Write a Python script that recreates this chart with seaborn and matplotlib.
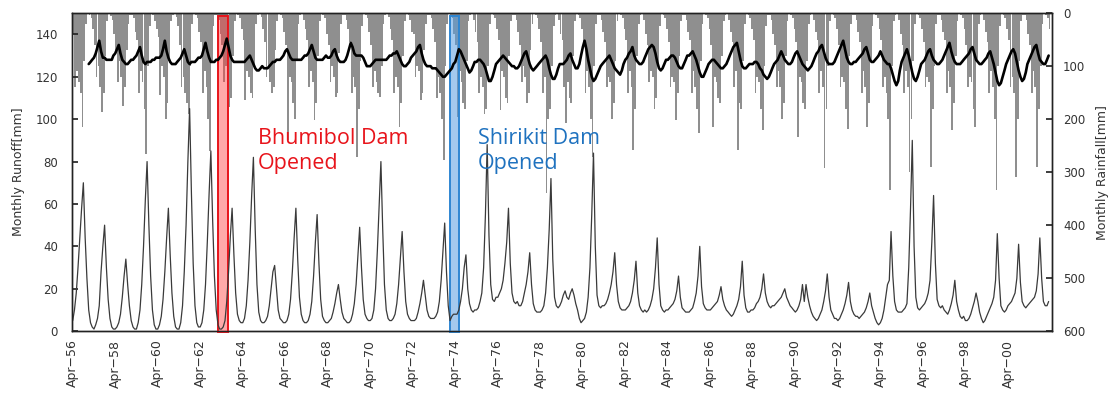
import numpy as np
import pandas as pd
import matplotlib
matplotlib.use('Agg')
import matplotlib.pyplot as plt
import matplotlib.dates as mdates
import seaborn as sns

# monthly series, one row per water year (Apr .. Mar), 1956/57 to 2001/02
first_month = '1956-04-01'

runoff = [
    [5, 10, 18, 30, 44, 58, 70, 44, 25, 10, 4, 2],       # 1956
    [1, 3, 6, 12, 28, 40, 50, 30, 15, 6, 2, 1],
    [1, 2, 4, 8, 16, 26, 34, 22, 12, 5, 2, 1],
    [1, 4, 10, 22, 40, 62, 80, 50, 26, 10, 3, 1],
    [1, 3, 7, 15, 28, 44, 58, 36, 18, 7, 2, 1],          # 1960
    [1, 4, 12, 28, 50, 80, 105, 65, 32, 12, 4, 2],
    [2, 4, 10, 22, 42, 65, 85, 52, 26, 10, 3, 1],
    [1, 2, 5, 14, 28, 45, 58, 36, 18, 8, 5, 4],
    [4, 6, 12, 24, 42, 64, 82, 48, 22, 9, 5, 4],
    [4, 5, 7, 12, 20, 28, 31, 20, 10, 6, 5, 4],          # 1965
    [4, 5, 8, 15, 28, 44, 58, 34, 16, 8, 5, 4],
    [4, 5, 8, 14, 26, 42, 55, 32, 15, 7, 5, 4],
    [4, 5, 6, 9, 13, 18, 22, 15, 9, 6, 5, 4],
    [4, 5, 8, 13, 22, 36, 49, 30, 15, 8, 6, 5],
    [5, 6, 10, 20, 38, 60, 80, 48, 22, 10, 6, 5],        # 1970
    [5, 6, 8, 13, 22, 35, 47, 28, 14, 8, 6, 5],
    [5, 5, 6, 9, 13, 18, 24, 17, 10, 7, 6, 6],
    [6, 7, 9, 14, 24, 38, 51, 28, 12, 5, 7, 8],
    [8, 8, 10, 14, 20, 30, 36, 20, 13, 10, 9, 10],
    [10, 11, 14, 18, 30, 55, 88, 45, 22, 15, 14, 16],    # 1975
    [16, 18, 20, 24, 32, 42, 58, 32, 18, 14, 13, 14],
    [12, 12, 14, 18, 22, 28, 37, 22, 13, 10, 9, 9],
    [9, 10, 12, 18, 30, 48, 72, 34, 16, 12, 11, 12],
    [14, 17, 19, 16, 15, 18, 20, 17, 13, 10, 6, 4],
    [5, 6, 9, 16, 30, 55, 84, 40, 17, 12, 11, 12],       # 1980
    [12, 13, 15, 18, 22, 28, 37, 22, 14, 11, 10, 10],
    [10, 11, 12, 14, 18, 24, 33, 18, 12, 10, 9, 10],
    [9, 10, 12, 15, 20, 30, 44, 22, 12, 10, 9, 10],
    [10, 11, 12, 13, 15, 19, 26, 16, 11, 10, 9, 9],
    [9, 10, 11, 14, 18, 26, 40, 21, 13, 11, 10, 10],     # 1985
    [10, 11, 12, 13, 14, 17, 21, 15, 12, 10, 9, 8],
    [7, 8, 10, 12, 15, 21, 33, 17, 11, 9, 9, 10],
    [10, 11, 13, 14, 16, 20, 27, 18, 14, 12, 11, 12],
    [12, 13, 14, 15, 16, 18, 20, 16, 14, 12, 11, 10],
    [9, 10, 12, 15, 22, 14, 22, 16, 12, 9, 7, 6],        # 1990
    [5, 6, 8, 10, 14, 19, 27, 16, 10, 8, 6, 6],
    [5, 6, 8, 10, 13, 17, 23, 14, 10, 8, 7, 7],
    [6, 7, 8, 9, 11, 14, 18, 12, 9, 6, 4, 3],
    [4, 6, 10, 16, 22, 24, 47, 26, 14, 10, 9, 9],
    [9, 10, 11, 13, 30, 58, 90, 40, 16, 11, 10, 11],     # 1995
    [12, 13, 15, 18, 24, 42, 64, 32, 15, 12, 11, 12],
    [10, 9, 8, 10, 13, 17, 24, 14, 10, 7, 6, 7],
    [5, 5, 6, 8, 11, 14, 18, 14, 9, 6, 4, 5],
    [7, 9, 11, 13, 16, 24, 46, 25, 12, 10, 9, 10],
    [12, 13, 14, 16, 18, 25, 41, 23, 14, 12, 11, 12],    # 2000
    [13, 14, 15, 16, 19, 27, 44, 25, 14, 12, 12, 14],
]

rainfall = [
    [40, 140, 110, 130, 150, 215, 90, 20, 2, 3, 10, 30],   # 1956
    [60, 120, 100, 140, 186, 150, 80, 15, 2, 5, 12, 40],
    [70, 130, 90, 120, 175, 140, 70, 20, 3, 4, 10, 35],
    [50, 150, 110, 130, 180, 265, 100, 25, 2, 3, 15, 30],
    [45, 155, 100, 120, 200, 170, 90, 15, 3, 2, 8, 25],    # 1960
    [60, 140, 120, 150, 170, 190, 100, 20, 2, 3, 10, 35],
    [55, 150, 110, 140, 200, 260, 90, 25, 3, 4, 12, 40],
    [60, 130, 100, 140, 177, 160, 80, 15, 2, 3, 10, 30],
    [50, 164, 110, 120, 150, 160, 100, 20, 3, 2, 8, 30],
    [55, 120, 100, 130, 150, 140, 70, 15, 2, 3, 10, 35],   # 1965
    [60, 240, 120, 130, 170, 200, 90, 20, 3, 2, 12, 30],
    [50, 140, 110, 130, 202, 170, 80, 15, 2, 3, 10, 40],
    [60, 130, 100, 120, 158, 150, 75, 20, 3, 4, 12, 30],
    [55, 150, 120, 140, 271, 180, 90, 25, 2, 3, 10, 35],
    [60, 140, 110, 130, 150, 158, 100, 20, 3, 2, 8, 30],   # 1970
    [50, 150, 120, 140, 215, 170, 80, 15, 2, 3, 12, 35],
    [40, 120, 100, 110, 164, 150, 70, 20, 3, 4, 10, 30],
    [55, 160, 120, 150, 200, 277, 100, 20, 2, 3, 10, 40],
    [60, 196, 110, 130, 170, 180, 90, 15, 3, 2, 12, 35],
    [55, 150, 120, 140, 190, 180, 100, 20, 2, 3, 10, 30],  # 1975
    [50, 183, 110, 120, 160, 170, 80, 15, 3, 4, 12, 35],
    [60, 130, 100, 120, 170, 150, 70, 20, 2, 3, 10, 30],
    [55, 150, 120, 340, 200, 180, 100, 25, 3, 2, 12, 40],
    [50, 140, 208, 130, 160, 170, 80, 15, 2, 3, 10, 30],
    [60, 150, 110, 140, 200, 271, 100, 20, 3, 4, 12, 35],  # 1980
    [55, 140, 120, 130, 200, 170, 90, 15, 2, 3, 10, 30],
    [50, 150, 110, 140, 258, 180, 80, 20, 3, 2, 12, 40],
    [60, 130, 110, 120, 180, 160, 100, 25, 2, 3, 10, 30],
    [55, 140, 120, 130, 202, 150, 80, 15, 3, 4, 12, 35],
    [50, 150, 110, 140, 180, 227, 90, 20, 2, 3, 10, 30],   # 1985
    [60, 215, 120, 130, 160, 170, 80, 15, 3, 2, 12, 35],
    [55, 140, 110, 258, 170, 180, 90, 20, 2, 3, 10, 30],
    [50, 150, 120, 130, 180, 221, 100, 25, 3, 4, 12, 40],
    [60, 140, 110, 140, 199, 170, 80, 15, 2, 3, 10, 30],
    [55, 233, 120, 130, 170, 180, 90, 20, 3, 2, 12, 35],   # 1990
    [50, 150, 110, 140, 293, 180, 100, 15, 2, 3, 10, 30],
    [60, 140, 120, 130, 180, 218, 80, 20, 3, 4, 12, 35],
    [55, 150, 110, 140, 215, 170, 90, 25, 2, 3, 10, 30],
    [50, 140, 120, 150, 200, 334, 100, 15, 3, 2, 12, 40],
    [60, 150, 110, 140, 300, 200, 90, 20, 2, 3, 10, 30],   # 1995
    [55, 140, 120, 130, 290, 180, 100, 20, 3, 4, 12, 35],
    [50, 150, 110, 140, 221, 170, 80, 15, 2, 3, 10, 30],
    [60, 140, 120, 130, 180, 215, 90, 20, 3, 2, 12, 35],
    [55, 150, 110, 140, 200, 334, 100, 25, 2, 3, 10, 30],
    [50, 140, 120, 150, 309, 200, 90, 15, 3, 4, 12, 40],   # 2000
    [60, 150, 110, 140, 290, 180, 100, 20, 2, 3, 10, 30],
]

# smoothed curve (thick black line), read on the left scale
smoothed = [
    [np.nan] * 9 + [126, 127, 128],                                  # 1956
    [129, 131, 134, 137, 132, 129, 129, 128, 128, 128, 128, 130],
    [131, 133, 135, 131, 128, 127, 126, 126, 127, 128, 128, 129],
    [130, 132, 134, 130, 127, 126, 127, 127, 127, 128, 128, 129],
    [129, 129, 130, 133, 137, 132, 129, 127, 126, 126, 126, 127],    # 1960
    [128, 129, 131, 133, 130, 127, 126, 127, 127, 127, 128, 129],
    [129, 130, 133, 136, 132, 129, 127, 127, 127, 128, 128, 129],
    [130, 132, 135, 138, 134, 130, 128, 127, 127, 127, 127, 127],
    [127, 127, 128, 129, 130, 128, 126, 124, 123, 123, 124, 125],
    [124, 124, 124, 125, 126, 127, 127, 128, 128, 128, 129, 130],    # 1965
    [132, 133, 131, 129, 128, 128, 128, 128, 128, 128, 129, 130],
    [130, 131, 133, 135, 132, 129, 128, 128, 128, 128, 129, 130],
    [129, 129, 130, 132, 133, 130, 128, 127, 127, 127, 128, 130],
    [133, 136, 134, 131, 130, 130, 130, 130, 129, 127, 125, 125],
    [125, 126, 127, 128, 128, 128, 128, 128, 128, 128, 129, 130],    # 1970
    [130, 131, 131, 132, 130, 128, 126, 125, 125, 126, 127, 129],
    [130, 131, 132, 134, 135, 131, 128, 126, 125, 125, 125, 124],
    [124, 124, 123, 122, 121, 120, 120, 121, 122, 123, 124, 126],
    [127, 130, 133, 132, 130, 128, 126, 124, 122, 123, 125, 127],
    [127, 128, 128, 127, 126, 124, 121, 118, 118, 120, 123, 126],    # 1975
    [127, 128, 129, 130, 129, 128, 127, 126, 125, 125, 124, 124],
    [125, 127, 129, 131, 132, 129, 126, 124, 123, 124, 125, 126],
    [127, 128, 129, 130, 128, 124, 121, 119, 119, 121, 124, 126],
    [126, 126, 127, 128, 130, 131, 128, 126, 124, 124, 126, 130],
    [134, 137, 133, 128, 124, 120, 118, 119, 121, 123, 125, 126],    # 1980
    [127, 128, 129, 130, 128, 126, 124, 123, 122, 121, 123, 126],
    [128, 129, 131, 132, 134, 130, 128, 127, 126, 126, 127, 129],
    [131, 133, 134, 135, 134, 131, 127, 124, 123, 124, 126, 128],
    [128, 129, 130, 130, 129, 127, 125, 124, 124, 126, 128, 130],
    [130, 131, 132, 130, 128, 125, 122, 120, 120, 122, 124, 126],    # 1985
    [127, 128, 128, 127, 126, 125, 124, 124, 125, 126, 128, 130],
    [132, 134, 135, 136, 132, 128, 125, 124, 124, 125, 126, 126],
    [126, 127, 127, 126, 124, 123, 121, 120, 119, 120, 122, 124],
    [126, 127, 128, 130, 132, 130, 128, 127, 126, 126, 127, 129],
    [131, 132, 130, 128, 126, 125, 124, 123, 124, 125, 127, 129],    # 1990
    [131, 132, 134, 135, 132, 129, 127, 126, 126, 126, 127, 129],
    [131, 133, 135, 137, 133, 129, 127, 126, 126, 127, 127, 128],
    [129, 130, 131, 133, 134, 131, 128, 127, 127, 128, 129, 130],
    [132, 130, 128, 127, 126, 126, 124, 121, 118, 116, 118, 123],
    [127, 129, 131, 133, 130, 126, 122, 119, 118, 120, 123, 126],    # 1995
    [127, 128, 130, 132, 133, 130, 128, 127, 126, 126, 127, 128],
    [130, 132, 134, 136, 132, 129, 127, 126, 126, 126, 127, 128],
    [129, 130, 131, 133, 134, 131, 128, 127, 126, 126, 127, 128],
    [129, 131, 132, 129, 126, 122, 118, 116, 117, 120, 123, 126],
    [128, 130, 132, 133, 131, 127, 123, 120, 118, 119, 122, 126],    # 2000
    [128, 130, 132, 134, 135, 131, 128, 127, 126, 126, 128, 130],
]

bhumibol = ('1963-02-01', '1963-07-20')
shirikit = ('1974-01-01', '1974-06-05')
tick_years = list(range(1956, 2001, 2))

months = pd.date_range(first_month, periods=12 * len(runoff), freq='MS')
df = pd.DataFrame({
    'month': months,
    'runoff': np.ravel(runoff),
    'rain': np.ravel(rainfall),
    'smooth': np.ravel(smoothed),
})

sns.set_theme(style='white')
plt.rcParams['font.family'] = ['DejaVu Sans']

fig = plt.figure(figsize=(11.13, 3.99), dpi=100)
ax = fig.add_axes([0.0647, 0.170, 0.8805, 0.797])
ax2 = ax.twinx()

# rainfall bars hanging from the top (inverted right axis)
ax2.bar(df['month'], df['rain'], width=30, align='edge', color='#8f8f8f', linewidth=0)
ax2.set_ylim(600, 0)
ax2.set_yticks(range(0, 601, 100))

ax.set_zorder(ax2.get_zorder() + 1)
ax.patch.set_visible(False)

sns.lineplot(data=df, x='month', y='runoff', ax=ax, color='#3a3a3a', lw=0.9)
sns.lineplot(data=df, x='month', y='smooth', ax=ax, color='black', lw=1.9)

ax.set_ylim(0, 150)
ax.set_yticks(range(0, 141, 20))
ax.set_xlim(pd.Timestamp('1956-03-20'), pd.Timestamp('2002-04-28'))
ticks = [pd.Timestamp(f'{y}-04-01') for y in tick_years]
ax.set_xticks(ticks)
ax.set_xticklabels([f'Apr\u2212{y % 100:02d}' for y in tick_years], rotation=90)

# dam opening markers
for (s, e), face, edge in [(bhumibol, (1.0, 0.25, 0.25, 0.45), '#e8141b'),
                           (shirikit, (0.35, 0.62, 0.88, 0.55), '#2f86d2')]:
    ax.axvspan(mdates.date2num(pd.Timestamp(s)), mdates.date2num(pd.Timestamp(e)),
               ymin=-0.003, ymax=0.99, facecolor=face, edgecolor=edge, lw=1.4,
               clip_on=False)

ax.text(pd.Timestamp('1964-12-15'), 96, 'Bhumibol Dam\nOpened', color='#e8141b',
        fontsize=15.5, family=['Open Sans', 'DejaVu Sans'], va='top', linespacing=1.25)
ax.text(pd.Timestamp('1975-04-25'), 96, 'Shirikit Dam\nOpened', color='#1f72bf',
        fontsize=15.5, family=['Open Sans', 'DejaVu Sans'], va='top', linespacing=1.25)

ax.set_xlabel('')
ax.set_ylabel('Monthly Runoff[mm]', fontsize=9, color='#333333', labelpad=8)
ax2.set_ylabel('Monthly Rainfall[mm]', fontsize=9, color='#333333', labelpad=8)

ax.tick_params(axis='y', direction='in', length=4, labelsize=8.5, labelcolor='#333333', pad=10)
ax.tick_params(axis='x', direction='in', length=4, labelsize=9, labelcolor='#333333', pad=6)
ax2.tick_params(axis='y', direction='in', length=4, labelsize=8.5, labelcolor='#333333', pad=8)
for a in (ax, ax2):
    for sp in a.spines.values():
        sp.set_color('#222222')
        sp.set_linewidth(1.0)

fig.savefig('out.png', dpi=100)
